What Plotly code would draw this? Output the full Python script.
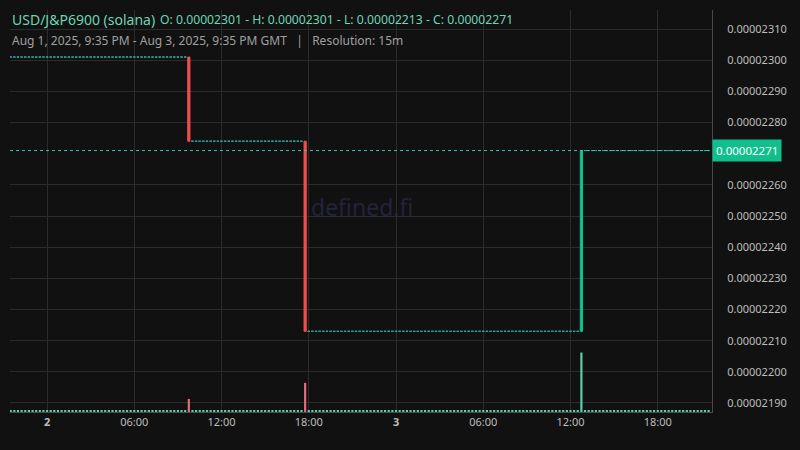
import pandas as pd
import plotly.graph_objects as go

# ---- data ----
start_time = "2025-08-01 21:30"
end_time = "2025-08-03 21:30"
move_times = ["2025-08-02 09:45", "2025-08-02 17:45", "2025-08-03 12:45"]
move_open = [0.00002301, 0.00002274, 0.00002213]
move_close = [0.00002274, 0.00002213, 0.00002271]
move_volume = [2.2, 4.9, 10.0]
flat_levels = [0.00002301, 0.00002274, 0.00002213, 0.00002271]
flat_volume = 0.25
last_price = 0.00002271

y_ticks = [0.00002190, 0.00002200, 0.00002210, 0.00002220, 0.00002230, 0.00002240,
           0.00002250, 0.00002260, 0.00002270, 0.00002280, 0.00002290, 0.00002300, 0.00002310]
y_ticks = [v for v in y_ticks if abs(v - 0.00002270) > 1e-12]
x_tickvals = ["2025-08-02 00:00", "2025-08-02 06:00", "2025-08-02 12:00", "2025-08-02 18:00",
              "2025-08-03 00:00", "2025-08-03 06:00", "2025-08-03 12:00", "2025-08-03 18:00"]
x_ticktext = ["<b>2</b>", "06:00", "12:00", "18:00", "<b>3</b>", "06:00", "12:00", "18:00"]

# ---- build 15m candles ----
times = pd.date_range(start_time, end_time, freq="15min")
move_ts = [pd.Timestamp(t) for t in move_times]
flat_o, mv_o, mv_c, vol, vol_col = [], [], [], [], []
seg = 0
for t in times:
    if t in move_ts:
        k = move_ts.index(t)
        flat_o.append(None)
        mv_o.append(move_open[k]); mv_c.append(move_close[k])
        vol.append(move_volume[k])
        vol_col.append("#5ecfae" if move_close[k] > move_open[k] else "#ea6a7e")
        seg = k + 1
    else:
        flat_o.append(flat_levels[seg])
        mv_o.append(None); mv_c.append(None)
        vol.append(flat_volume)
        vol_col.append("#5ecfae")

mv_h = [None if o is None else max(o, c) for o, c in zip(mv_o, mv_c)]
mv_l = [None if o is None else min(o, c) for o, c in zip(mv_o, mv_c)]

fig = go.Figure()
fig.add_trace(go.Bar(x=times, y=vol, marker=dict(color=vol_col, line=dict(width=0)),
                     width=9 * 60 * 1000, yaxis="y2", hoverinfo="skip"))
fig.add_trace(go.Candlestick(x=times, open=flat_o, high=flat_o, low=flat_o, close=flat_o,
                             increasing=dict(line=dict(color="#21a89e", width=1), fillcolor="#21a89e"),
                             decreasing=dict(line=dict(color="#21a89e", width=1), fillcolor="#21a89e"),
                             whiskerwidth=0))
fig.add_trace(go.Candlestick(x=times, open=mv_o, high=mv_h, low=mv_l, close=mv_c,
                             increasing=dict(line=dict(color="#10c28e", width=1), fillcolor="#10c28e"),
                             decreasing=dict(line=dict(color="#f44e4e", width=1), fillcolor="#f44e4e"),
                             whiskerwidth=0))

fig.add_shape(type="line", xref="paper", x0=0, x1=1, yref="y", y0=last_price, y1=last_price,
              line=dict(color="#3cc4b2", width=1, dash="dot"))

fig.add_annotation(x=0, y=0.9776, xref="paper", yref="paper", xanchor="left", yanchor="middle",
                   text="USD/J&amp;P6900 (solana)", showarrow=False,
                   font=dict(size=14, color="#6dd5b5"))
fig.add_annotation(x=(158 - 10) / 702, y=0.9776, xref="paper", yref="paper", xanchor="left",
                   yanchor="middle",
                   text="O: 0.00002301 - H: 0.00002301 - L: 0.00002213 - C: 0.00002271",
                   showarrow=False, font=dict(size=12.2, color="#6dd5b5"))
fig.add_annotation(x=0, y=0.9229, xref="paper", yref="paper", xanchor="left", yanchor="middle",
                   text="Aug 1, 2025, 9:35 PM - Aug 3, 2025, 9:35 PM GMT   |   Resolution: 15m",
                   showarrow=False, font=dict(size=12, color="#a0a0a0"))
fig.add_annotation(x=0.5014, y=0.51, xref="paper", yref="paper", text="defined.fi",
                   showarrow=False, font=dict(size=23, color="#23233d"))
fig.add_annotation(x=1, y=last_price, xref="paper", yref="y", xanchor="left", yanchor="middle",
                   text="0.00002271", showarrow=False, bgcolor="#0fbf8c", borderpad=3,
                   font=dict(size=11.5, color="#ffffff"))

fig.update_layout(
    width=800, height=450,
    margin=dict(l=10, r=88, t=10, b=38),
    paper_bgcolor="#111111", plot_bgcolor="#111111",
    font=dict(family="Noto Sans", color="#bdbdbd", size=11),
    showlegend=False,
    boxgap=0.15,
    xaxis=dict(type="date", range=["2025-08-01 21:27", "2025-08-03 21:44"],
               rangeslider=dict(visible=False),
               tickvals=x_tickvals, ticktext=x_ticktext,
               showgrid=True, gridcolor="#2c2c2c", gridwidth=1,
               showline=True, linecolor="#4a4a4a", linewidth=1,
               zeroline=False, ticks="", tickfont=dict(size=11, color="#bdbdbd")),
    yaxis=dict(side="right", range=[0.0000218711, 0.0000231610],
               tickvals=y_ticks, tickformat=".8f",
               showgrid=True, gridcolor="#2c2c2c", gridwidth=1,
               showline=True, linecolor="#4a4a4a", linewidth=1,
               zeroline=False, ticks="", ticklabelstandoff=12,
               tickfont=dict(size=11, color="#bdbdbd")),
    yaxis2=dict(overlaying="y", range=[0, 67.6], visible=False, showgrid=False),
)

fig.write_html("out.html", config={"displayModeBar": False},
               post_script="document.body.style.margin='0';")
